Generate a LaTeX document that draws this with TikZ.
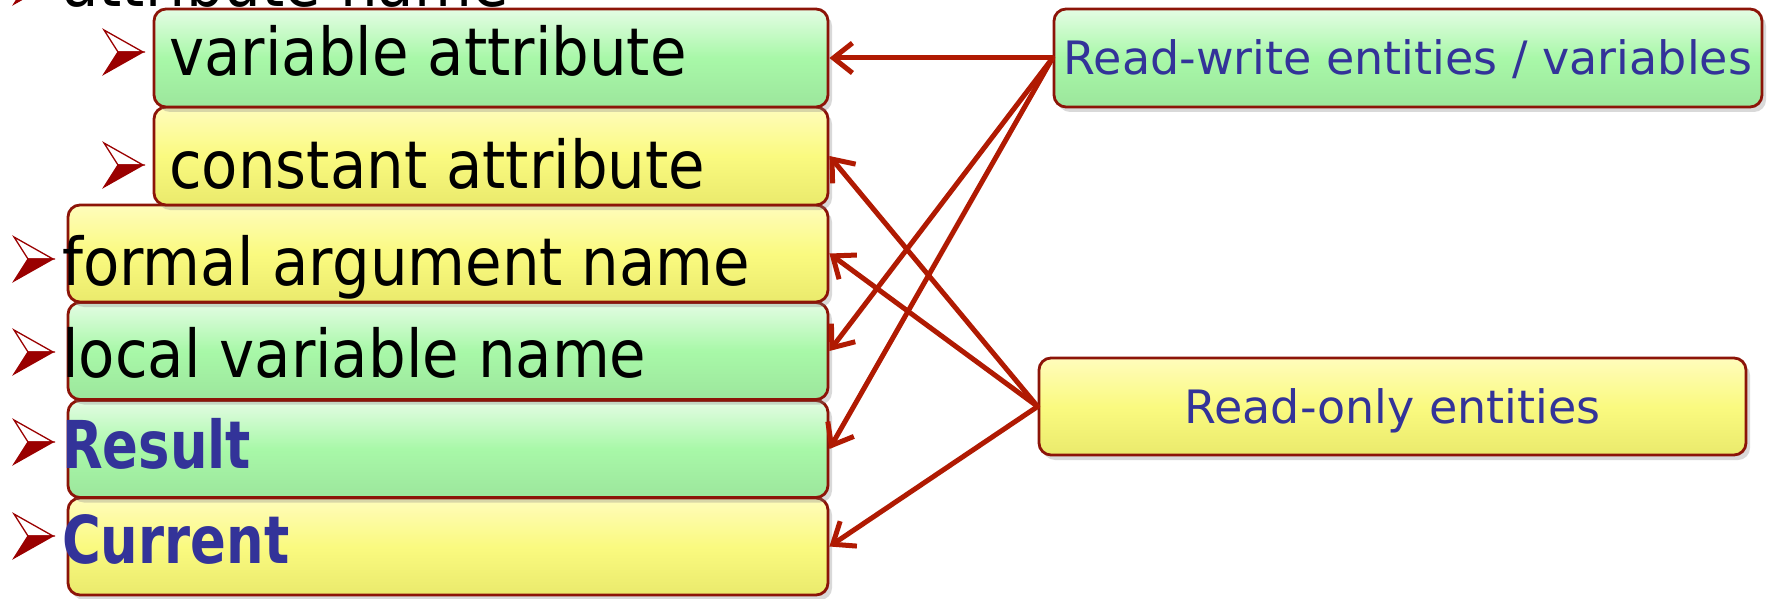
\documentclass[tikz,border=0pt]{standalone}
\usepackage{fontspec}
\setmainfont{DejaVu Sans}
\newfontfamily\boxfont{DejaVu Sans}[FakeStretch=0.9]
\newfontfamily\heavyfont{DejaVu Sans}[FakeStretch=0.8]
\usetikzlibrary{arrows.meta,shadows}
\definecolor{edgered}{HTML}{8C1408}
\definecolor{arrowred}{HTML}{B01A02}
\definecolor{bulletred}{HTML}{9A0000}
\definecolor{textblue}{HTML}{333399}
\definecolor{gtop}{HTML}{E4FCE4}
\definecolor{gmid}{HTML}{A8F8A8}
\definecolor{gbot}{HTML}{9CE69C}
\definecolor{ytop}{HTML}{FFFCBC}
\definecolor{ymid}{HTML}{FAFA80}
\definecolor{ybot}{HTML}{EAEA6C}
\tikzset{
  box/.style={draw=edgered, line width=2.8pt, rounded corners=12pt, inner sep=0pt,
    drop shadow={shadow xshift=4pt, shadow yshift=-5pt, opacity=0.3}},
  greenbox/.style={box, top color=gtop, bottom color=gbot, middle color=gmid},
  yellowbox/.style={box, top color=ytop, bottom color=ybot, middle color=ymid},
  leftwide/.style={minimum width=760, minimum height=97},
  leftnarrow/.style={minimum width=674, minimum height=98},
  bigtext/.style={inner sep=0pt, anchor=base west, text=black,
    font=\boxfont\fontsize{66}{70}\selectfont},
  bluetext/.style={inner sep=0pt, anchor=base west, text=textblue,
    font=\heavyfont\bfseries\fontsize{66}{70}\selectfont},
  sidetext/.style={text=textblue, font=\fontsize{46}{50}\selectfont,
    text height=34pt, text depth=0pt},
  conn/.style={draw=arrowred, line width=5pt, line cap=round,
    -{Straight Barb[length=19pt, width=30pt]}},
  redbullet/.pic={
    \filldraw[fill=white, draw=bulletred, line width=1.3pt] (0,0) -- (-39,22) -- (-25,0) -- cycle;
    \filldraw[fill=bulletred, draw=bulletred, line width=1.3pt] (0,0) -- (-25,0) -- (-39,-22) -- cycle;
  }
}
\begin{document}
\begin{tikzpicture}[x=1pt,y=1pt]
\useasboundingbox (0,0) rectangle (1767,-599);
\clip (0,0) rectangle (1767,-599);

% left column boxes (drawn bottom-up)
\node[yellowbox, leftwide] (cur) at (448,-546.5) {};
\node[greenbox, leftwide] (res) at (448,-449) {};
\node[greenbox, leftwide] (lv) at (448,-351) {};
\node[yellowbox, leftwide] (fa) at (448,-253.5) {};
\node[yellowbox, leftnarrow] (ca) at (491,-156) {};
\node[greenbox, leftnarrow] (va) at (491,-58) {};

% right boxes
\node[greenbox, minimum width=708, minimum height=98, sidetext] (rw) at (1408,-58) {Read-write entities / variables};
\node[yellowbox, minimum width=707, minimum height=97, sidetext] (ro) at (1392.5,-406.5) {Read-only entities};

% texts
\node[bigtext] (topt) at (62,-7) {attribute name};
\node[bigtext] (vat) at (169,-76) {variable attribute};
\node[bigtext] (cat) at (169,-189) {constant attribute};
\node[bigtext] (fat) at (62,-285) {formal argument name};
\node[bigtext] (lvt) at (62,-377) {local variable name};
\node[bluetext] (rest) at (62,-468) {Result};
\node[bluetext] (curt) at (62,-563) {Current};

% bullets
\pic at (53,18) {redbullet};
\pic at (143,-52) {redbullet};
\pic at (143,-165) {redbullet};
\pic at (53,-259) {redbullet};
\pic at (53,-352) {redbullet};
\pic at (53,-442) {redbullet};
\pic at (53,-536) {redbullet};

% connectors
\draw[conn] (rw.west) -- (va.east);
\draw[conn] (rw.west) -- (lv.east);
\draw[conn] (rw.west) -- (res.east);
\draw[conn] (ro.west) -- (ca.east);
\draw[conn] (ro.west) -- (fa.east);
\draw[conn] (ro.west) -- (cur.east);
\end{tikzpicture}
\end{document}
